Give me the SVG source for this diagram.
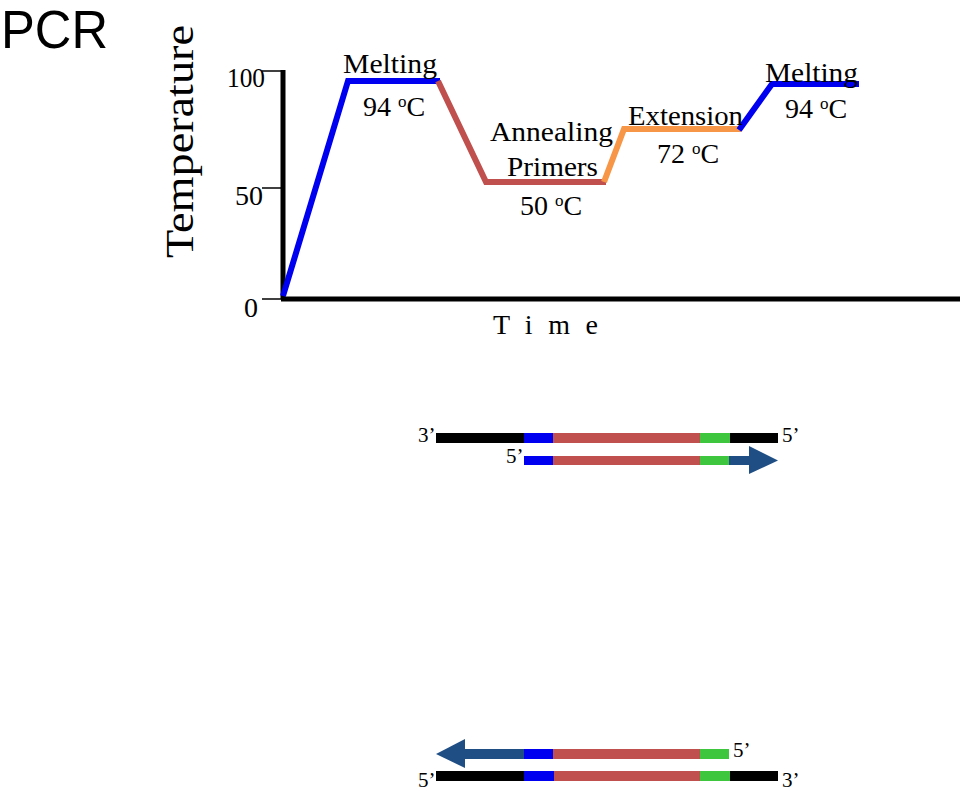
<svg xmlns="http://www.w3.org/2000/svg" width="960" height="791" viewBox="0 0 960 791">
<style>
.s{font-family:"Liberation Serif","DejaVu Serif",serif;fill:#000}
.lbl{font-size:28px}
.tk{font-size:27px}
.end{font-size:21px}
.axis{stroke:#000;stroke-width:5;fill:none}
.tick{stroke:#000;stroke-width:1.5}
.curve{fill:none;stroke-width:6;stroke-linejoin:miter;stroke-linecap:butt}
</style>
<rect width="960" height="791" fill="#fff"/>
<g id="title"><text x="1" y="48" font-family="'Liberation Sans',Arial,sans-serif" font-size="53" textLength="107" lengthAdjust="spacingAndGlyphs">PCR</text></g>
<g id="y-label"><text class="s" transform="translate(193,258) rotate(-90)" font-size="40" textLength="233" lengthAdjust="spacingAndGlyphs">Temperature</text></g>
<g id="axes">
<line class="axis" x1="283" y1="70" x2="283" y2="299"/>
<line class="axis" x1="281" y1="299" x2="960" y2="299"/>
<line class="tick" x1="262" y1="71" x2="283" y2="71"/>
<line class="tick" x1="262" y1="188" x2="283" y2="188"/>
<line class="tick" x1="262" y1="299" x2="283" y2="299"/>
<text class="s tk" x="227" y="87" textLength="38" lengthAdjust="spacingAndGlyphs">100</text>
<text class="s tk" x="235" y="205" textLength="28" lengthAdjust="spacingAndGlyphs">50</text>
<text class="s tk" x="244" y="317" textLength="14" lengthAdjust="spacingAndGlyphs">0</text>
<text class="s" x="493" y="334" font-size="28" textLength="105" lengthAdjust="spacing">Time</text>
</g>
<g id="connectors">
<polyline class="curve" stroke="#0000f0" points="283,296 348,81 440,81"/>
<polyline class="curve" stroke="#c0504d" points="438,81 486,182 606,182"/>
<polyline class="curve" stroke="#f79646" points="604,182 624,129 741,129"/>
<polyline class="curve" stroke="#0000f0" points="739,130 772,84 859,84"/>
</g>
<g id="melting1">
<text class="s lbl" x="343" y="73" textLength="94" lengthAdjust="spacingAndGlyphs">Melting</text>
<text class="s lbl" x="363" y="116">94 <tspan font-size="17" dy="-9">o</tspan><tspan dy="9">C</tspan></text>
</g>
<g id="annealing">
<text class="s lbl" x="490" y="141" textLength="123" lengthAdjust="spacingAndGlyphs">Annealing</text>
<text class="s lbl" x="507" y="176" textLength="91" lengthAdjust="spacingAndGlyphs">Primers</text>
<text class="s lbl" x="520" y="215">50 <tspan font-size="17" dy="-9">o</tspan><tspan dy="9">C</tspan></text>
</g>
<g id="extension">
<text class="s lbl" x="628" y="125" textLength="115" lengthAdjust="spacingAndGlyphs">Extension</text>
<text class="s lbl" x="657" y="163">72 <tspan font-size="17" dy="-9">o</tspan><tspan dy="9">C</tspan></text>
</g>
<g id="melting2">
<text class="s lbl" x="765" y="82" textLength="93" lengthAdjust="spacingAndGlyphs">Melting</text>
<text class="s lbl" x="785" y="118">94 <tspan font-size="17" dy="-9">o</tspan><tspan dy="9">C</tspan></text>
</g>
<g id="dna-top">
<rect x="436" y="433" width="88" height="10" fill="#000"/>
<rect x="524" y="433" width="29" height="10" fill="#0000f0"/>
<rect x="553" y="433" width="147" height="10" fill="#c0504d"/>
<rect x="700" y="433" width="30" height="10" fill="#3fc63f"/>
<rect x="730" y="433" width="48" height="10" fill="#000"/>
<text class="s end" x="418" y="442">3’</text>
<text class="s end" x="782" y="442">5’</text>
<rect x="524" y="456" width="29" height="9" fill="#0000f0"/>
<rect x="553" y="456" width="147" height="9" fill="#c0504d"/>
<rect x="700" y="456" width="29" height="9" fill="#3fc63f"/>
<rect x="729" y="456" width="21" height="9" fill="#1f4e85"/>
<polygon points="749,446 778,460.5 749,474" fill="#1f4e85"/>
<text class="s end" x="506" y="463">5’</text>
</g>
<g id="dna-bottom">
<polygon points="465,739 436,754 465,768" fill="#1f4e85"/>
<rect x="464" y="749" width="60" height="10" fill="#1f4e85"/>
<rect x="524" y="749" width="29" height="10" fill="#0000f0"/>
<rect x="553" y="749" width="147" height="10" fill="#c0504d"/>
<rect x="700" y="749" width="29" height="10" fill="#3fc63f"/>
<text class="s end" x="733" y="757">5’</text>
<rect x="436" y="771" width="88" height="10" fill="#000"/>
<rect x="524" y="771" width="30" height="10" fill="#0000f0"/>
<rect x="554" y="771" width="146" height="10" fill="#c0504d"/>
<rect x="700" y="771" width="30" height="10" fill="#3fc63f"/>
<rect x="730" y="771" width="48" height="10" fill="#000"/>
<text class="s end" x="418" y="787">5’</text>
<text class="s end" x="782" y="787">3’</text>
</g>
</svg>
